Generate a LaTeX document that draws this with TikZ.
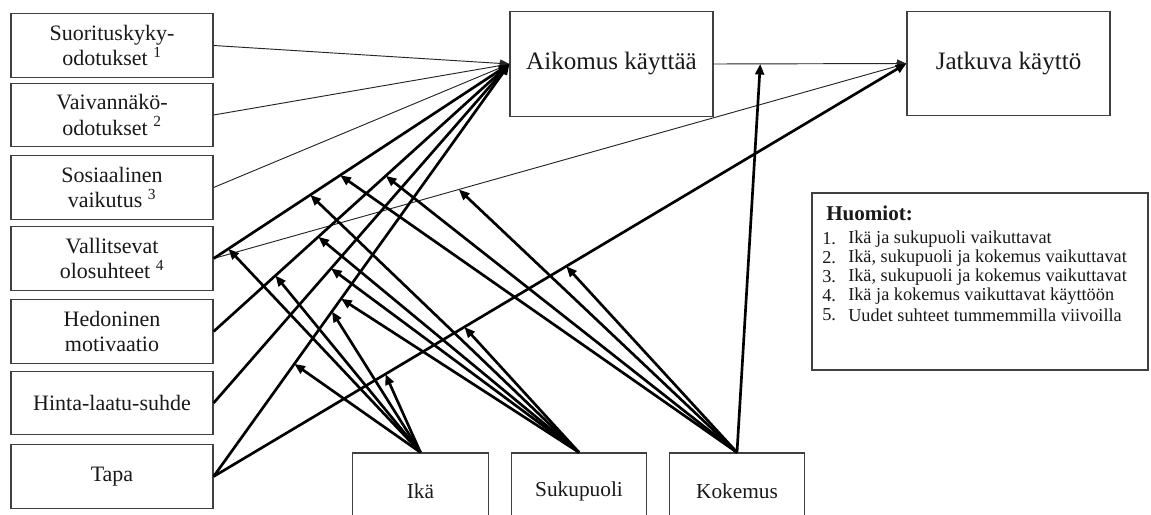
\documentclass[tikz,border=0pt]{standalone}
\usepackage{fontspec}
\setmainfont{Liberation Serif}
\usetikzlibrary{arrows.meta,calc}
\begin{document}
\begin{tikzpicture}[x=0.75pt,y=-0.75pt,
  box/.style={draw=black!75,line width=0.9pt,align=center,inner sep=0pt,text=black!90},
  lbox/.style={box,minimum width=151.5pt,minimum height=47.5pt,font=\fontsize{16.5}{19}\selectfont},
  bigbox/.style={box,minimum width=152.25pt,minimum height=78.5pt,font=\fontsize{18.8}{22}\selectfont},
  modbox/.style={box,minimum width=101.5pt,minimum height=57pt,font=\fontsize{16}{19}\selectfont},
  thinarr/.style={line width=0.7pt,draw=black!85,-{Triangle[length=7pt,width=6pt]}},
  thickarr/.style={line width=2pt,draw=black,-{Triangle[length=8pt,width=6.5pt]}},
  notetxt/.style={anchor=west,inner sep=0pt,text=black!90,font=\fontsize{13.7}{15}\selectfont},
]
\clip (0,0) rectangle (1151,514);
\fill[white] (0,0) rectangle (1151,514);

% left boxes
\node[lbox] (b1) at (112,45.5) {Suorituskyky-\\odotukset \textsuperscript{1}};
\node[lbox] (b2) at (112,115) {Vaivannäkö-\\odotukset \textsuperscript{2}};
\node[lbox] (b3) at (112,187.5) {Sosiaalinen\\vaikutus \textsuperscript{3}};
\node[lbox] (b4) at (112,258.5) {Vallitsevat\\olosuhteet \textsuperscript{4}};
\node[lbox] (b5) at (112,331.5) {Hedoninen\\motivaatio};
\node[lbox] (b6) at (112,403) {Hinta-laatu-suhde};
\node[lbox] (b7) at (112,476.5) {Tapa};

% outcome boxes
\node[bigbox] (A) at (611.5,64) {Aikomus käyttää};
\node[bigbox] (J) at (1008.5,63.5) {Jatkuva käyttö};

% moderator boxes
\node[modbox] (I) at (420.5,491) {Ikä};
\node[modbox] (S) at (579,491) {Sukupuoli};
\node[modbox] (K) at (737,491) {Kokemus};

% notes
\node[box,minimum width=252pt,minimum height=132.75pt] (N) at (980,281.5) {};
\node[anchor=west,inner sep=0pt,text=black!90,font=\fontsize{15.8}{18}\selectfont\bfseries] (Nh) at (826,213) {Huomiot:};
\foreach \i/\t/\y in {1/Ikä ja sukupuoli vaikuttavat/239,
                      2/{Ikä, sukupuoli ja kokemus vaikuttavat}/258,
                      3/{Ikä, sukupuoli ja kokemus vaikuttavat}/277,
                      4/Ikä ja kokemus vaikuttavat käyttöön/296,
                      5/Uudet suhteet tummemmilla viivoilla/315}{
  \node[notetxt] (nn\i) at (822,\y) {\i.};
  \node[notetxt] (nt\i) at (848,\y) {\t};
}

% main relations
\draw[thinarr] (b1.east) -- (A.west);
\draw[thinarr] (b2.east) -- (A.west);
\draw[thinarr] (b3.east) -- (A.west);
\draw[thinarr] (b4.east) -- (J.west);
\draw[thinarr] (A.east) -- (J.west);
\draw[thickarr] (b4.east) -- (A.west);
\draw[thickarr] (b5.east) -- (A.west);
\draw[thickarr] (b6.east) -- (A.west);
\draw[thickarr] (b7.east) -- (A.west);
\draw[thickarr] (b7.east) -- (J.west);

% moderation targets
\coordinate (t1) at ($(b4.east)!0.05!(A.west)$);
\coordinate (t2) at ($(b4.east)!0.327!(A.west)$);
\coordinate (t3) at ($(b4.east)!0.428!(A.west)$);
\coordinate (t7) at ($(b5.east)!0.209!(A.west)$);
\coordinate (t15) at ($(b5.east)!0.354!(A.west)$);
\coordinate (t4) at ($(b5.east)!0.582!(A.west)$);
\coordinate (t8) at ($(b6.east)!0.397!(A.west)$);
\coordinate (t11) at ($(b7.east)!0.273!(A.west)$);
\coordinate (t10) at ($(b7.east)!0.40!(A.west)$);
\coordinate (t9) at ($(b7.east)!0.431!(A.west)$);
\coordinate (t12) at ($(b7.east)!0.248!(J.west)$);
\coordinate (t13) at ($(b7.east)!0.362!(J.west)$);
\coordinate (t6) at ($(b7.east)!0.509!(J.west)$);
\coordinate (t5) at ($(b4.east)!0.354!(J.west)$);
\coordinate (t14) at ($(A.east)!0.242!(J.west)$);

% moderation arrows
\foreach \t in {t1,t7,t10,t11,t12} \draw[thickarr] (I.north) -- (\t);
\foreach \t in {t2,t15,t8,t9,t13} \draw[thickarr] (S.north) -- (\t);
\foreach \t in {t3,t4,t5,t6,t14} \draw[thickarr] (K.north) -- (\t);
\end{tikzpicture}
\end{document}
